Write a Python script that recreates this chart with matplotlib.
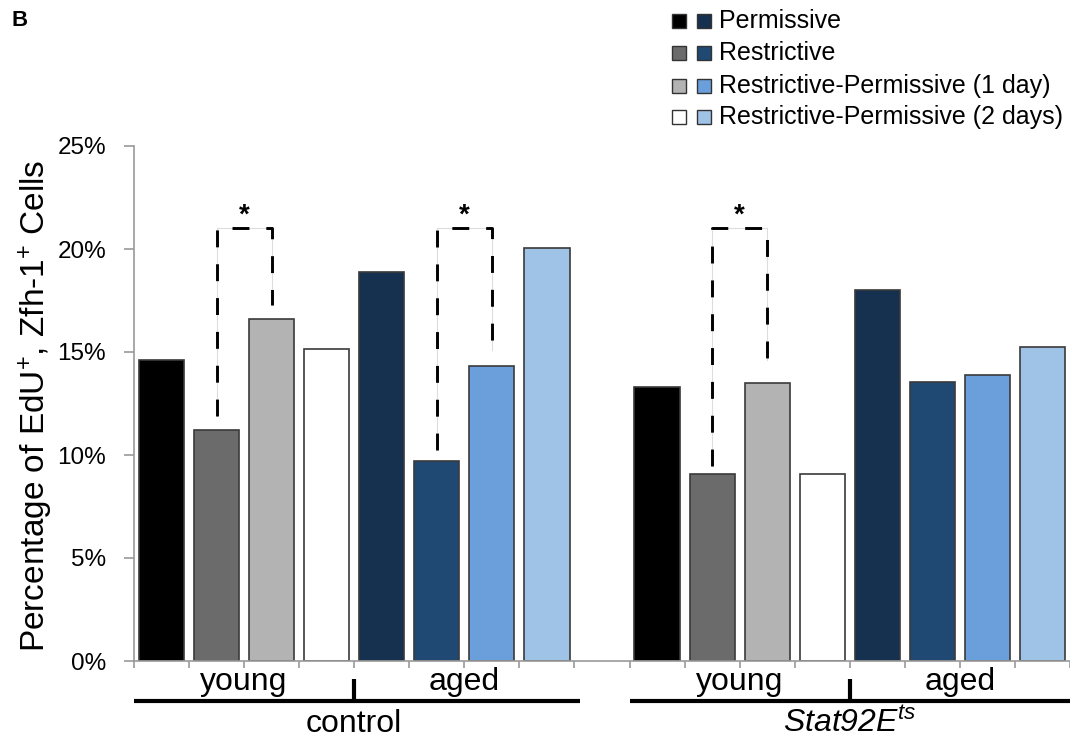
import matplotlib.pyplot as plt
from matplotlib.patches import Rectangle

plt.rcParams["font.family"] = ["Liberation Sans", "DejaVu Sans"]
plt.rcParams["mathtext.fontset"] = "custom"
plt.rcParams["mathtext.rm"] = "Liberation Sans"
plt.rcParams["mathtext.it"] = "Liberation Sans:italic"

# --- data (percent of EdU+, Zfh-1+ cells) ---
conditions = [
    "Permissive",
    "Restrictive",
    "Restrictive-Permissive (1 day)",
    "Restrictive-Permissive (2 days)",
]
genotypes = ["control", r"Stat92E$^{ts}$"]
ages = ["young", "aged"]
control_young = [14.6, 11.2, 16.6, 15.15]
control_aged = [18.9, 9.7, 14.3, 20.05]
stat_young = [13.3, 9.1, 13.5, 9.1]
stat_aged = [18.0, 13.55, 13.9, 15.25]

young_colors = ["#000000", "#6b6b6b", "#b3b3b3", "#ffffff"]
aged_colors = ["#15314f", "#1f4872", "#6a9fdc", "#9fc2e7"]

# significance brackets: (left bar, right bar, left end, right end, top)
brackets = [(1, 2, 11.9, 17.3, 21.0), (5, 6, 10.25, 15.1, 21.0), (10, 11, 9.45, 14.6, 21.0)]

W, H = 1070, 740
fig = plt.figure(figsize=(W / 100, H / 100), dpi=100)
ax = fig.add_axes([134 / W, 1 - 661 / H, (W - 134) / W, 515 / H])

series = [control_young, control_aged, stat_young, stat_aged]
starts = [0, 4, 9, 13]
for vals, start, colors in zip(series, starts, [young_colors, aged_colors, young_colors, aged_colors]):
    xs = [start + i for i in range(len(vals))]
    ax.bar(xs, vals, width=0.82, color=colors, edgecolor="#3a3a3a", linewidth=1.2, zorder=2)

for x1, x2, y1, y2, top in brackets:
    ax.plot([x1, x1, x2, x2], [y1, top, top, y2], color="#dddddd", lw=0.8, zorder=3)
    ax.plot([x1, x1, x2, x2], [y1, top, top, y2], color="black", lw=2.1,
            dashes=(5.8, 5.8), zorder=4)
    ax.text((x1 + x2) / 2, top + 0.3, "*", ha="center", va="baseline",
            fontsize=20, fontweight="bold")

ax.set_ylim(0, 25)
ax.set_xlim(-0.5, 16.33)
ax.set_yticks([0, 5, 10, 15, 20, 25])
ax.set_yticklabels([f"{v}%" for v in [0, 5, 10, 15, 20, 25]], fontsize=17.5)
ax.set_xticks([i - 0.5 for i in range(18)])
ax.set_xticklabels([])
ax.tick_params(axis="both", color="#9a9a9a", direction="out", width=1.2)
ax.tick_params(axis="y", length=7, pad=13)
ax.tick_params(axis="x", length=5)
for s in ["top", "right"]:
    ax.spines[s].set_visible(False)
for s in ["left", "bottom"]:
    ax.spines[s].set_color("#9a9a9a")
    ax.spines[s].set_linewidth(1.2)

# category labels below axis
tr = ax.get_xaxis_transform()
for g, (start, name) in enumerate(zip([0, 9], genotypes)):
    for a, age in enumerate(ages):
        ax.text(start + 4 * a + 1.5, -0.056, age, transform=tr, ha="center",
                va="baseline", fontsize=23)
    ax.plot([start - 0.5, start + 7.6], [-0.078, -0.078], transform=tr,
            color="black", lw=3, clip_on=False, solid_capstyle="butt")
    ax.plot([start + 3.5, start + 3.5], [-0.035, -0.078], transform=tr,
            color="black", lw=3, clip_on=False, solid_capstyle="butt")
    ax.text(start + 3.5, -0.137, name, transform=tr, ha="center",
            va="baseline", fontsize=23, style="italic" if g == 1 else "normal")

fig.text(36 / W, 1 - 406 / H, r"Percentage of EdU$^{+}$, Zfh-1$^{+}$ Cells",
         rotation=90, ha="center", va="center", fontsize=24)

fig.text(12 / W, 1 - 20 / H, "B", ha="left", va="center", fontsize=16, fontweight="bold")

# legend: grey swatch + blue swatch per condition
rows = [21, 53, 86, 117]
for label, c1, c2, ry in zip(conditions, young_colors, aged_colors, rows):
    for sx, c in [(672, c1), (697, c2)]:
        fig.add_artist(Rectangle((sx / W, 1 - (ry + 7) / H), 14 / W, 14 / H,
                                 transform=fig.transFigure, facecolor=c,
                                 edgecolor="#333333", lw=1))
    fig.text(719 / W, 1 - ry / H, label, ha="left", va="center", fontsize=18)

plt.savefig("out.png", dpi=100)
